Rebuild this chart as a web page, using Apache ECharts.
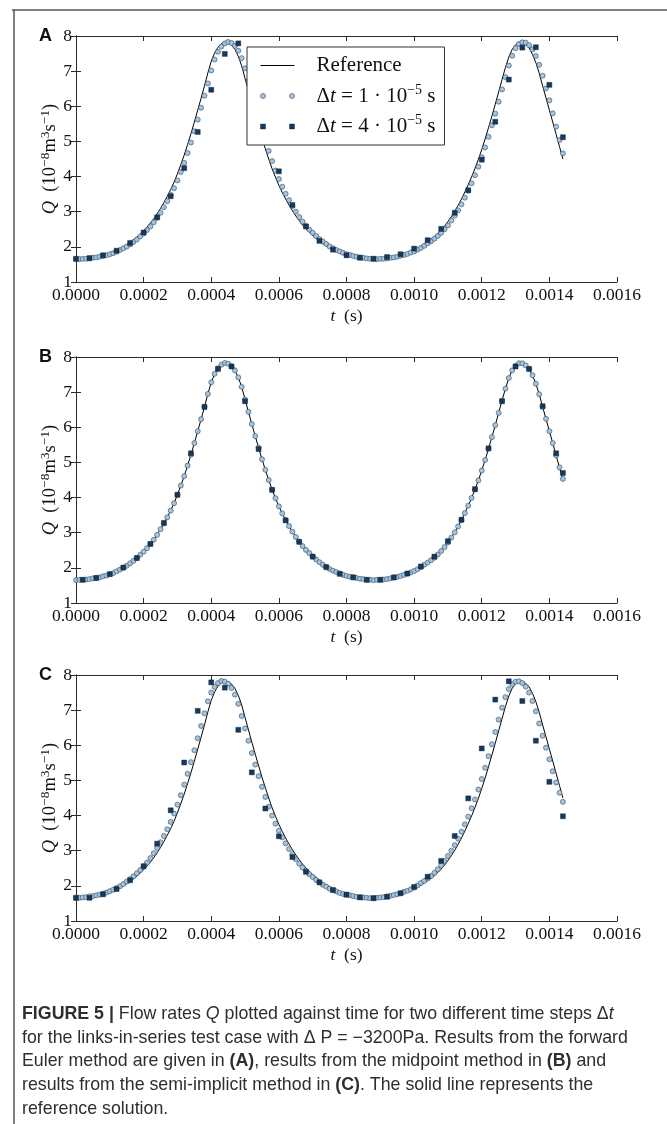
<!DOCTYPE html>
<html>
<head>
<meta charset="utf-8">
<script src="https://cdn.jsdelivr.net/npm/echarts@6/dist/echarts.min.js"></script>
<style>
html,body{margin:0;padding:0;background:#fff;}
#chart{width:667px;height:1124px;}
</style>
</head>
<body>
<div id="chart"></div>
<script>
// ---------- data ----------
const fineStep = 0.00001; // sampling of the reference line and the Δt = 1e-5 s run
const xTickValues = [0, 0.0002, 0.0004, 0.0006, 0.0008, 0.0010, 0.0012, 0.0014, 0.0016];
const yTickValues = [1, 2, 3, 4, 5, 6, 7, 8];
const panelLetters = ['A', 'B', 'C'];

const refQ = [
1.652,1.655,1.66,1.67,1.683,1.698,1.715,1.734,1.756,1.783,
1.815,1.853,1.897,1.945,1.998,2.057,2.125,2.198,2.278,2.365,
2.458,2.56,2.675,2.80,2.94,3.095,3.26,3.44,3.63,3.84,
4.08,4.34,4.61,4.91,5.22,5.55,5.89,6.23,6.58,6.95,
7.28,7.52,7.68,7.78,7.83,7.81,7.74,7.62,7.42,7.15,
6.79,6.44,6.09,5.75,5.42,5.09,4.79,4.50,4.22,3.98,
3.75,3.55,3.36,3.19,3.03,2.88,2.75,2.62,2.51,2.415,
2.32,2.24,2.16,2.09,2.025,1.97,1.92,1.875,1.835,1.80,
1.77,1.745,1.725,1.706,1.69,1.676,1.664,1.657,1.653,1.655,
1.66,1.67,1.683,1.70,1.72,1.74,1.765,1.795,1.83,1.865,
1.905,1.955,2.02,2.085,2.15,2.22,2.29,2.38,2.48,2.59,
2.72,2.86,3.01,3.18,3.36,3.56,3.77,3.99,4.23,4.49,
4.77,5.07,5.39,5.72,6.06,6.41,6.76,7.10,7.40,7.62,
7.75,7.82,7.82,7.76,7.66,7.48,7.24,6.94,6.58,6.24,
5.89,5.55,5.20,4.85,4.50];

// Δt = 1e-5 s (circles), panels A, B, C
const circA = [
1.65,1.65,1.66,1.66,1.67,1.69,1.70,1.72,1.74,1.76,
1.79,1.82,1.86,1.91,1.96,2.01,2.07,2.14,2.21,2.30,
2.38,2.48,2.58,2.70,2.83,2.97,3.13,3.30,3.48,3.67,
3.89,4.13,4.39,4.67,4.97,5.29,5.62,5.96,6.30,6.65,
7.02,7.33,7.55,7.70,7.79,7.83,7.80,7.72,7.58,7.37,
7.08,6.72,6.37,6.02,5.68,5.35,5.03,4.73,4.44,4.17,
3.93,3.71,3.51,3.33,3.16,3.00,2.85,2.72,2.60,2.49,
2.40,2.31,2.22,2.15,2.08,2.01,1.96,1.91,1.87,1.83,
1.79,1.77,1.74,1.72,1.70,1.69,1.67,1.66,1.66,1.65,
1.66,1.66,1.67,1.69,1.70,1.72,1.75,1.77,1.80,1.84,
1.87,1.92,1.97,2.03,2.10,2.16,2.23,2.31,2.40,2.50,
2.61,2.75,2.89,3.04,3.21,3.40,3.60,3.81,4.04,4.28,
4.55,4.83,5.13,5.46,5.79,6.13,6.48,6.83,7.16,7.44,
7.65,7.77,7.82,7.81,7.74,7.62,7.43,7.18,6.87,6.51,
6.17,5.80,5.42,5.04,4.66];
const circB = [
1.65,1.66,1.66,1.67,1.68,1.70,1.72,1.73,1.76,1.78,
1.82,1.85,1.90,1.95,2.00,2.06,2.13,2.20,2.28,2.37,
2.46,2.56,2.68,2.80,2.94,3.10,3.26,3.44,3.63,3.84,
4.08,4.34,4.61,4.91,5.22,5.55,5.89,6.23,6.58,6.95,
7.28,7.52,7.68,7.78,7.83,7.81,7.74,7.62,7.42,7.15,
6.79,6.44,6.09,5.75,5.42,5.09,4.79,4.50,4.22,3.98,
3.75,3.55,3.36,3.19,3.03,2.88,2.75,2.62,2.51,2.42,
2.32,2.24,2.16,2.09,2.03,1.97,1.92,1.88,1.84,1.80,
1.77,1.75,1.73,1.71,1.69,1.68,1.66,1.66,1.65,1.66,
1.66,1.67,1.68,1.70,1.72,1.74,1.77,1.80,1.83,1.87,
1.91,1.96,2.02,2.09,2.15,2.22,2.29,2.38,2.48,2.59,
2.72,2.86,3.01,3.18,3.36,3.56,3.77,3.99,4.23,4.49,
4.77,5.07,5.39,5.72,6.06,6.41,6.76,7.10,7.40,7.62,
7.75,7.82,7.82,7.76,7.66,7.48,7.24,6.94,6.58,6.24,
5.89,5.55,5.20,4.86,4.53];
const circC = [
1.65,1.66,1.67,1.68,1.70,1.71,1.73,1.75,1.78,1.81,
1.85,1.89,1.94,1.99,2.05,2.12,2.19,2.27,2.36,2.45,
2.55,2.66,2.79,2.93,3.08,3.24,3.42,3.61,3.82,4.06,
4.31,4.58,4.88,5.19,5.52,5.86,6.20,6.55,6.91,7.25,
7.50,7.66,7.77,7.83,7.81,7.75,7.63,7.44,7.18,6.83,
6.48,6.13,5.78,5.45,5.12,4.82,4.53,4.25,4.00,3.77,
3.57,3.38,3.21,3.05,2.90,2.76,2.63,2.52,2.42,2.33,
2.25,2.17,2.10,2.03,1.98,1.92,1.88,1.84,1.80,1.77,
1.75,1.73,1.71,1.69,1.68,1.67,1.66,1.65,1.65,1.66,
1.67,1.68,1.70,1.72,1.74,1.76,1.79,1.83,1.86,1.90,
1.95,2.01,2.08,2.14,2.21,2.28,2.37,2.47,2.58,2.71,
2.85,3.00,3.16,3.34,3.54,3.75,3.97,4.21,4.46,4.74,
5.04,5.36,5.69,6.03,6.38,6.73,7.07,7.37,7.60,7.74,
7.81,7.82,7.77,7.67,7.50,7.26,6.97,6.62,6.27,5.93,
5.60,5.26,4.94,4.65,4.39];

// Δt = 4e-5 s (squares)
const sqTimeAC = [0,0.00004,0.00008,0.00012,0.00016,0.0002,0.00024,0.00028,0.00032,0.00036,
0.0004,0.00044,0.00048,0.00052,0.00056,0.0006,0.00064,0.00068,0.00072,0.00076,
0.0008,0.00084,0.00088,0.00092,0.00096,0.001,0.00104,0.00108,0.00112,0.00116,
0.0012,0.00124,0.00128,0.00132,0.00136,0.0014,0.00144];
const sqTimeB = [0.00002,0.00006,0.0001,0.00014,0.00018,0.00022,0.00026,0.0003,0.00034,0.00038,
0.00042,0.00046,0.0005,0.00054,0.00058,0.00062,0.00066,0.0007,0.00074,0.00078,
0.00082,0.00086,0.0009,0.00094,0.00098,0.00102,0.00106,0.0011,0.00114,0.00118,
0.00122,0.00126,0.0013,0.00134,0.00138,0.00142,0.00144];
const sqA = [1.66,1.68,1.76,1.89,2.11,2.41,2.84,3.44,4.24,5.27,
6.47,7.49,7.79,7.25,5.60,4.15,3.19,2.58,2.17,1.92,
1.76,1.69,1.66,1.71,1.79,1.95,2.19,2.51,2.97,3.61,
4.48,5.56,6.76,7.67,7.68,6.61,5.12];
const sqB = [1.66,1.71,1.82,2.01,2.28,2.68,3.28,4.08,5.26,6.58,
7.66,7.73,6.74,5.38,4.22,3.35,2.74,2.32,2.02,1.83,
1.73,1.66,1.66,1.73,1.84,2.04,2.32,2.76,3.37,4.24,
5.40,6.74,7.73,7.66,6.60,5.26,4.70];
const sqC = [1.66,1.66,1.76,1.91,2.16,2.56,3.20,4.15,5.51,6.98,
7.79,7.64,6.44,5.23,4.20,3.41,2.82,2.40,2.10,1.88,
1.75,1.67,1.65,1.69,1.79,1.97,2.26,2.71,3.42,4.49,
5.91,7.30,7.82,7.26,6.13,4.96,3.98];

// ---------- build ----------
const SERIF = 'Liberation Serif';
const SANS = 'Liberation Sans';
const AX = '#2b2b2b';
const gridTops = [36, 357, 675];
const gridH = 246;

const fine = arr => arr.map((v, i) => [i * fineStep, v]);
const pairs = (ts, vs) => vs.map((v, i) => [ts[i], v]);
const panels = [
  {circ: circA, sq: pairs(sqTimeAC, sqA)},
  {circ: circB, sq: pairs(sqTimeB, sqB)},
  {circ: circC, sq: pairs(sqTimeAC, sqC)}
];

const xRich = {
  n: {fontFamily: SERIF, fontSize: 17.5, color: '#111', lineHeight: 24},
  i: {fontFamily: SERIF, fontSize: 17.5, fontStyle: 'italic', color: '#111', lineHeight: 24}
};
const yRich = {
  n: {fontFamily: SERIF, fontSize: 18.5, color: '#111', lineHeight: 24},
  i: {fontFamily: SERIF, fontSize: 18.5, fontStyle: 'italic', color: '#111', lineHeight: 24},
  s: {fontFamily: SERIF, fontSize: 13.5, color: '#111', lineHeight: 13, verticalAlign: 'top'}
};

const grids = [], xAxes = [], yAxes = [], series = [];
panels.forEach((p, g) => {
  grids.push({left: 76, right: 50, top: gridTops[g], height: gridH});
  const tick = {inside: true, length: 5, lineStyle: {color: AX, width: 1}};
  const line = {show: true, lineStyle: {color: AX, width: 1}};
  xAxes.push({
    gridIndex: g, type: 'value', position: 'bottom', min: xTickValues[0], max: xTickValues[xTickValues.length - 1],
    interval: xTickValues[1] - xTickValues[0], axisLine: line, axisTick: tick, splitLine: {show: false},
    axisLabel: {formatter: v => v.toFixed(4), fontFamily: SERIF, fontSize: 17.5, color: '#111', margin: 4,
      showMinLabel: true, showMaxLabel: true},
    name: '{i|t}{n|  (s)}', nameLocation: 'middle', nameGap: 22, nameMoveOverlap: false,
    nameTextStyle: {rich: xRich}
  });
  xAxes.push({
    gridIndex: g, type: 'value', position: 'top', min: xTickValues[0], max: xTickValues[xTickValues.length - 1],
    interval: xTickValues[1] - xTickValues[0], axisLine: line, axisTick: tick, splitLine: {show: false},
    axisLabel: {show: false}
  });
  yAxes.push({
    gridIndex: g, type: 'value', position: 'left', min: yTickValues[0], max: yTickValues[yTickValues.length - 1],
    interval: 1, axisLine: line, axisTick: tick, splitLine: {show: false},
    axisLabel: {fontFamily: SERIF, fontSize: 17.5, color: '#111', margin: 4, showMinLabel: true, showMaxLabel: true},
    name: '{i|Q}{n|  (10}{s|−8}{n|m}{s|3}{n|s}{s|−1}{n|)}', nameLocation: 'middle', nameGap: 14, nameRotate: 90,
    nameMoveOverlap: false,
    nameTextStyle: {rich: yRich}
  });
  yAxes.push({
    gridIndex: g, type: 'value', position: 'right', min: yTickValues[0], max: yTickValues[yTickValues.length - 1],
    interval: 1, axisLine: line, axisTick: tick, splitLine: {show: false}, axisLabel: {show: false}
  });
  series.push({
    name: 'Reference', type: 'line', xAxisIndex: 2 * g, yAxisIndex: 2 * g, data: fine(refQ),
    symbol: 'none', showSymbol: false, lineStyle: {color: '#000', width: 1}, itemStyle: {color: '#000'}, z: 2,
    silent: true
  });
  series.push({
    name: 'dt1', type: 'scatter', xAxisIndex: 2 * g, yAxisIndex: 2 * g, data: fine(p.circ),
    symbol: 'circle', symbolSize: 5,
    itemStyle: {color: '#a4c5df', borderColor: '#34475a', borderWidth: 0.6, opacity: 1}, z: 3, silent: true
  });
  series.push({
    name: 'dt4', type: 'scatter', xAxisIndex: 2 * g, yAxisIndex: 2 * g, data: p.sq,
    symbol: 'rect', symbolSize: 5,
    itemStyle: {color: '#16385a', borderColor: '#0e2236', borderWidth: 0.4, opacity: 1}, z: 4, silent: true
  });
});

const legRich = {
  n: {fontFamily: SERIF, fontSize: 21, color: '#111', lineHeight: 26},
  i: {fontFamily: SERIF, fontSize: 21, fontStyle: 'italic', color: '#111', lineHeight: 26},
  s: {fontFamily: SERIF, fontSize: 14, color: '#111', lineHeight: 14, verticalAlign: 'top'}
};
const legendLabels = {
  'Reference': '{n|Reference}',
  'dt1': '{n|Δ}{i|t}{n| = 1 · 10}{s|−5}{n| s}',
  'dt4': '{n|Δ}{i|t}{n| = 4 · 10}{s|−5}{n| s}'
};

const CAP = 17.8;
const capRich = {
  b: {fontFamily: SANS, fontSize: CAP, fontWeight: 'bold', color: '#1e1e1e'},
  i: {fontFamily: SANS, fontSize: CAP, fontStyle: 'italic', color: '#2e2e2e'},
  r: {fontFamily: SANS, fontSize: CAP, color: '#2e2e2e'}
};
const captionLines = [
  '{b|FIGURE 5 |}{r| Flow rates }{i|Q}{r| plotted against time for two different time steps Δ}{i|t}',
  '{r|for the links-in-series test case with Δ P = −3200Pa. Results from the forward}',
  '{r|Euler method are given in }{b|(A)}{r|, results from the midpoint method in }{b|(B)}{r| and}',
  '{r|results from the semi-implicit method in }{b|(C)}{r|. The solid line represents the}',
  '{r|reference solution.}'
];
const captionTop = 1015, captionStep = 23.8;

const graphics = [
  {type: 'line', shape: {x1: 12, y1: 10, x2: 667, y2: 10}, style: {stroke: '#555', lineWidth: 1.5}, silent: true},
  {type: 'line', shape: {x1: 14, y1: 10, x2: 14, y2: 1124}, style: {stroke: '#555', lineWidth: 1.5}, silent: true}
];
panelLetters.forEach((L, g) => {
  graphics.push({type: 'text', left: 39, top: gridTops[g] - 9,
    style: {text: L, fontFamily: SANS, fontWeight: 'bold', fontSize: 18, fill: '#111'}, silent: true});
});
captionLines.forEach((t, k) => {
  graphics.push({type: 'text', left: 22, top: captionTop + k * captionStep - 10,
    style: {text: t, rich: capRich, fontFamily: SANS, fontSize: CAP, fill: '#2e2e2e'}, silent: true});
});

const option = {
  animation: false,
  backgroundColor: '#fff',
  grid: grids,
  xAxis: xAxes,
  yAxis: yAxes,
  series: series,
  legend: {
    left: 247, top: 47, orient: 'vertical',
    data: [
      {name: 'Reference', itemStyle: {opacity: 0}, lineStyle: {color: '#000', width: 1}},
      {name: 'dt1', icon: 'path://M0,2.5 a2.5,2.5 0 1,0 5,0 a2.5,2.5 0 1,0 -5,0 M29,2.5 a2.5,2.5 0 1,0 5,0 a2.5,2.5 0 1,0 -5,0',
        itemStyle: {color: '#a4c5df', borderColor: '#34475a', borderWidth: 0.6}},
      {name: 'dt4', icon: 'path://M0,0 L5,0 L5,5 L0,5 Z M29,0 L34,0 L34,5 L29,5 Z',
        itemStyle: {color: '#16385a', borderColor: '#0e2236', borderWidth: 0.4}}
    ],
    itemWidth: 34, itemHeight: 5, itemGap: 7,
    backgroundColor: '#fff', borderColor: '#333', borderWidth: 1, borderRadius: 0,
    padding: [8, 9, 8, 13],
    formatter: name => legendLabels[name],
    textStyle: {rich: legRich, padding: [0, 0, 0, 17]},
    selectedMode: false,
    z: 10
  },
  graphic: graphics
};

const chart = echarts.init(document.getElementById('chart'), null, {renderer: 'canvas'});
chart.setOption(option);
</script>
</body>
</html>
